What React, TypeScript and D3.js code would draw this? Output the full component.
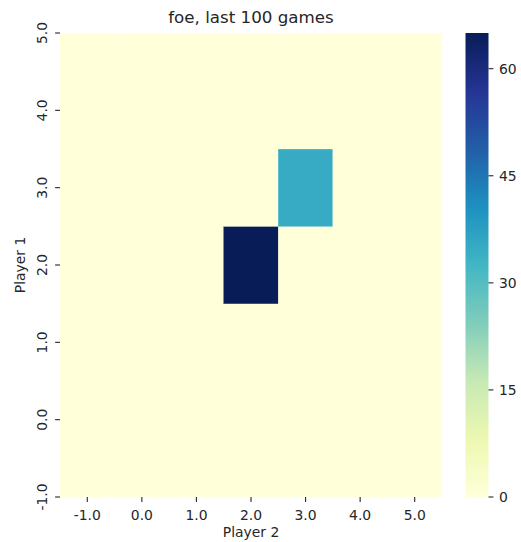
import React from "react";
import * as d3 from "d3";

const xLabels = [-1, 0, 1, 2, 3, 4, 5];
const yLabels = [-1, 0, 1, 2, 3, 4, 5];
// rows ordered by yLabels (-1 .. 5), columns by xLabels (-1 .. 5)
const values: number[][] = [
  [0, 0, 0, 0, 0, 0, 0],
  [0, 0, 0, 0, 0, 0, 0],
  [0, 0, 0, 0, 0, 0, 0],
  [0, 0, 0, 65, 0, 0, 0],
  [0, 0, 0, 0, 35, 0, 0],
  [0, 0, 0, 0, 0, 0, 0],
  [0, 0, 0, 0, 0, 0, 0],
];
const colorTicks = [0, 15, 30, 45, 60];
const ylgnbu = ["#ffffd9", "#edf8b1", "#c7e9b4", "#7fcdbb", "#41b6c4", "#1d91c0", "#225ea8", "#253494", "#081d58"];

const W = 521, H = 542;
const L = 60, R = 442, T = 33, B = 497;
const CBL = 465.5, CBR = 488.5;
const FONT = "DejaVu Sans, sans-serif";
const FS = 13.9;

export default function App() {
  const vmin = 0, vmax = 65;
  const x = d3.scaleLinear().domain([-1.5, 5.5]).range([L, R]);
  const y = d3.scaleLinear().domain([-1, 5]).range([B, T]);
  const cmap = d3
    .scaleLinear<string>()
    .domain(ylgnbu.map((_, i) => vmin + (i / (ylgnbu.length - 1)) * (vmax - vmin)))
    .range(ylgnbu)
    .interpolate(d3.interpolateRgb)
    .clamp(true);
  const cy = d3.scaleLinear().domain([vmin, vmax]).range([B, T]);

  const cells: { xv: number; yv: number; v: number }[] = [];
  yLabels.forEach((yv, ri) => xLabels.forEach((xv, ci) => cells.push({ xv, yv, v: values[ri][ci] })));

  const gradStops = d3.range(0, 1.0001, 0.02);

  return (
    <svg
      width={W}
      height={H}
      style={{ display: "block", background: "#fff", position: "fixed", left: 0, top: 0 }}
      fontFamily={FONT}
    >
      <defs>
        <clipPath id="plotclip">
          <rect x={L} y={T} width={R - L} height={B - T} />
        </clipPath>
        <linearGradient id="cbgrad" x1="0" y1="1" x2="0" y2="0">
          {gradStops.map((t) => (
            <stop key={t} offset={t} stopColor={cmap(vmin + t * (vmax - vmin))} />
          ))}
        </linearGradient>
      </defs>
      <text x={(L + R) / 2} y={23} textAnchor="middle" fontSize={16.7} fill="#262626">
        foe, last 100 games
      </text>
      <g clipPath="url(#plotclip)">
        {cells.map((c, i) => {
          const x0 = x(c.xv - 0.5), x1 = x(c.xv + 0.5);
          const y0 = y(c.yv + 0.5), y1 = y(c.yv - 0.5);
          return (
            <rect key={i} x={x0} y={y0} width={x1 - x0} height={y1 - y0} fill={cmap(c.v)} stroke={cmap(c.v)} strokeWidth={0.3} />
          );
        })}
      </g>
      {xLabels.map((v) => (
        <g key={"x" + v}>
          <line x1={x(v)} x2={x(v)} y1={B} y2={B + 4.9} stroke="#262626" strokeWidth={1.1} />
          <text x={x(v)} y={519.5} textAnchor="middle" fontSize={FS} fill="#262626">
            {v.toFixed(1)}
          </text>
        </g>
      ))}
      {yLabels.map((v) => (
        <g key={"y" + v}>
          <line x1={L - 4.9} x2={L} y1={y(v)} y2={y(v)} stroke="#262626" strokeWidth={1.1} />
          <text transform={`translate(46.5,${y(v)}) rotate(-90)`} textAnchor="middle" fontSize={FS} fill="#262626">
            {v.toFixed(1)}
          </text>
        </g>
      ))}
      <text x={(L + R) / 2} y={537} textAnchor="middle" fontSize={FS} fill="#262626">
        Player 2
      </text>
      <text transform={`translate(25,${(T + B) / 2}) rotate(-90)`} textAnchor="middle" fontSize={FS} fill="#262626">
        Player 1
      </text>
      <rect x={CBL} y={T} width={CBR - CBL} height={B - T} fill="url(#cbgrad)" />
      {colorTicks.map((t) => (
        <g key={"c" + t}>
          <line x1={CBR} x2={CBR + 4.9} y1={cy(t)} y2={cy(t)} stroke="#262626" strokeWidth={1.1} />
          <text x={CBR + 10.5} y={cy(t)} dy="0.36em" fontSize={FS} fill="#262626">
            {t}
          </text>
        </g>
      ))}
    </svg>
  );
}
